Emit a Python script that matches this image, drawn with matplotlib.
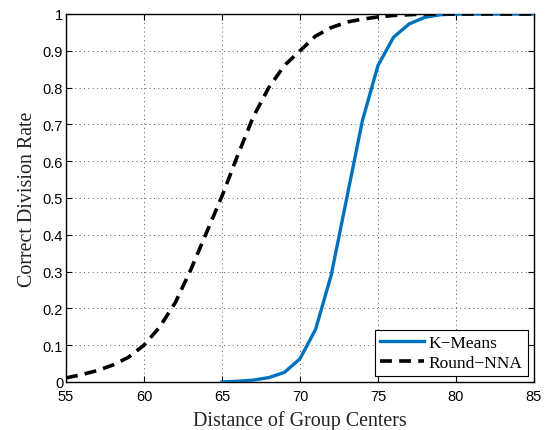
import matplotlib
matplotlib.use("Agg")
import matplotlib.pyplot as plt
import numpy as np

# distance of group centers
dist_km = [65, 66, 67, 68, 69, 70, 71, 72, 73, 74, 75, 76, 77, 78, 79, 80, 81, 82, 83, 84, 85]
rate_km = [0.0, 0.002, 0.005, 0.012, 0.026, 0.063, 0.143, 0.29, 0.5, 0.71, 0.86, 0.937, 0.973,
           0.991, 0.998, 1.0, 1.0, 1.0, 1.0, 1.0, 1.0]

dist_nna = list(range(55, 86))
rate_nna = [0.011, 0.02, 0.031, 0.046, 0.067, 0.1, 0.149, 0.215, 0.305, 0.405, 0.505, 0.615,
            0.72, 0.8, 0.86, 0.9, 0.94, 0.963, 0.978, 0.986, 0.992, 0.996, 0.998, 1.0,
            1.0, 1.0, 1.0, 1.0, 1.0, 1.0, 1.0]

xticks = [55, 60, 65, 70, 75, 80, 85]
yticks = [0, 0.1, 0.2, 0.3, 0.4, 0.5, 0.6, 0.7, 0.8, 0.9, 1]
ytick_labels = ['0', '0.1', '0.2', '0.3', '0.4', '0.5', '0.6', '0.7', '0.8', '0.9', '1']

fig = plt.figure(figsize=(5.53, 4.31), dpi=100)
ax = fig.add_axes([0.1193, 0.1114, 0.8463, 0.8538])

ax.plot(dist_km, rate_km, color='#0072BD', lw=2.4, label='K\u2212Means', zorder=3)
ax.plot(dist_nna, rate_nna, color='k', lw=2.6, ls=(0, (3.3, 2.0)), label='Round\u2212NNA', zorder=4)

ax.set_xlim(55, 85)
ax.set_ylim(0, 1)
ax.set_xticks(xticks)
ax.set_yticks(yticks)
ax.set_yticklabels(ytick_labels)
ax.tick_params(direction='in', top=True, right=True, length=4, width=0.8,
               labelsize=10.5)
ax.tick_params(axis='x', pad=5)
ax.tick_params(axis='y', pad=2)
for lab in ax.get_xticklabels() + ax.get_yticklabels():
    lab.set_fontfamily('Liberation Sans')
ax.grid(True, color='#555555', linestyle=(0, (1, 3.5)), lw=0.7)
for sp in ax.spines.values():
    sp.set_linewidth(1.0)

ax.set_xlabel('Distance of Group Centers', fontsize=14.4, family='Liberation Serif', color='#222222', labelpad=5)
ax.set_ylabel('Correct Division Rate', fontsize=14.4, family='Liberation Serif', color='#222222', labelpad=4)

leg = ax.legend(loc='lower right', prop={'family': 'Liberation Serif', 'size': 12.5},
                fancybox=False, edgecolor='k', framealpha=1, handlelength=2.5,
                borderaxespad=0.35, borderpad=0.3, labelspacing=0.2, handletextpad=0.3)
leg.get_frame().set_linewidth(0.8)

fig.savefig('out.png', dpi=100)
plt.close(fig)
